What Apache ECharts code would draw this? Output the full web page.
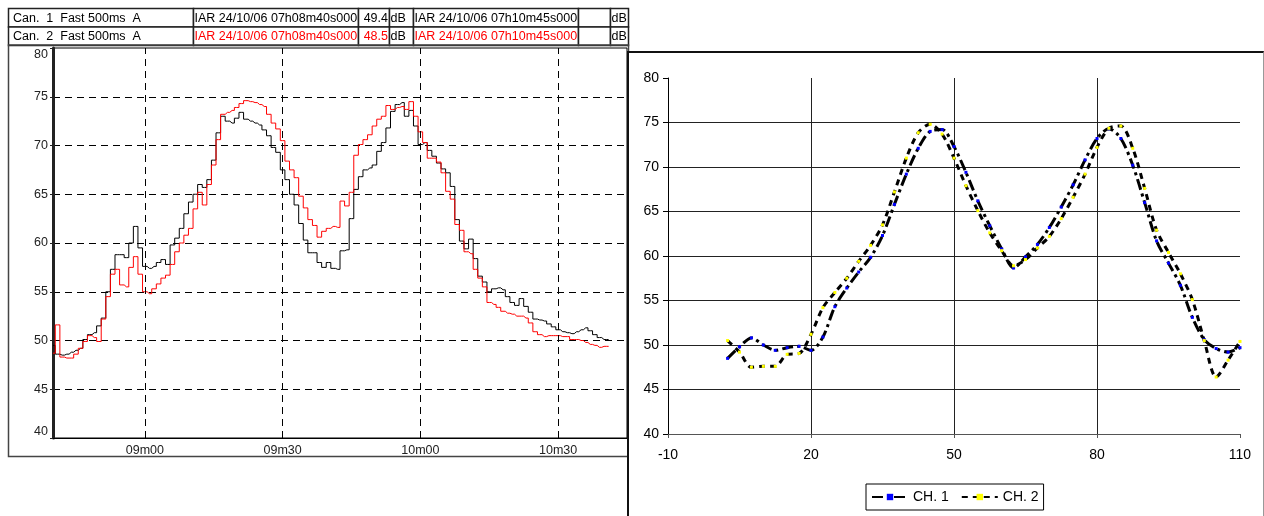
<!DOCTYPE html>
<html><head><meta charset="utf-8">
<script src="https://cdn.jsdelivr.net/npm/echarts@6/dist/echarts.min.js"></script>
<style>
html,body{margin:0;padding:0;background:#fff;overflow:hidden;}
#left{position:absolute;left:0;top:0;width:1264px;height:516px;}
#rbg{position:absolute;left:627px;top:51px;width:637px;height:465px;background:#fff;box-sizing:border-box;border-left:2px solid #111;border-top:2px solid #111;border-right:1px solid #999;}
#right{position:absolute;left:627px;top:51px;width:637px;height:465px;}
</style></head><body>
<div id="left"></div><div id="rbg"></div><div id="right"></div>
<script>
// ---------- Left chart data (1 value per second from 07h08m40s) ----------
const startLabel = '08m40';
const xTickSeconds = [20, 50, 80, 110];
const xTickLabels = ['09m00', '09m30', '10m00', '10m30'];
const yTicksLeft = [40, 45, 50, 55, 60, 65, 70, 75, 80];
const can1Values = [
  49.5, 48.6, 48.5, 48.6, 48.8, 49.0, 49.2, 50.1, 50.6, 50.8,
  51.5, 52.3, 55.0, 57.3, 58.8, 58.8, 58.5, 60.0, 61.7, 59.5,
  57.6, 57.4, 57.6, 58.0, 58.3, 57.8, 59.8, 60.5, 61.5, 63.0,
  64.2, 65.0, 66.0, 65.7, 66.5, 68.5, 71.3, 73.0, 72.5, 72.3,
  72.8, 73.4, 72.7, 72.5, 72.3, 72.1, 71.6, 71.0, 69.8, 69.3,
  67.5, 66.5, 65.0, 63.9, 62.0, 60.3, 59.0, 59.0, 58.0, 57.5,
  58.0, 57.4, 57.3, 59.2, 59.3, 62.5, 65.5, 66.8, 67.5, 67.7,
  68.0, 69.4, 70.3, 71.8, 73.5, 74.2, 74.4, 73.0, 73.6, 72.0,
  70.1, 70.3, 69.5, 68.9, 68.2, 67.6, 67.2, 65.8, 62.4, 60.2,
  59.4, 60.4, 58.4, 56.6, 56.0, 55.0, 55.3, 55.4, 55.2, 54.5,
  53.9, 53.6, 54.3, 53.5, 52.9, 52.2, 52.1, 52.0, 51.7, 51.4,
  51.1, 50.9, 50.8, 50.7, 50.9, 51.1, 51.3, 51.0, 50.6, 50.3,
  50.1, 50.1
];
const can2Values = [
  48.7, 51.6, 48.3, 48.2, 48.2, 48.6, 49.2, 49.9, 50.5, 50.3,
  49.9, 52.2, 54.5, 56.8, 57.3, 55.7, 55.5, 57.5, 58.6, 56.8,
  55.0, 54.8, 55.3, 55.8, 56.4, 56.7, 57.8, 59.1, 60.0, 60.8,
  61.5, 63.5, 65.2, 63.9, 66.0, 68.0, 70.6, 73.2, 73.4, 73.6,
  73.9, 74.3, 74.6, 74.5, 74.4, 74.2, 74.0, 73.2, 72.3, 71.7,
  70.5, 68.4, 67.5, 66.7, 64.8, 63.6, 62.4, 61.8, 60.6, 61.2,
  61.5, 61.7, 61.6, 64.3, 63.8, 65.2, 69.0, 70.1, 70.6, 71.1,
  72.0, 72.7, 73.0, 74.1, 73.7, 73.9, 74.0, 73.7, 74.5, 73.0,
  71.4, 70.3, 68.7, 68.7, 68.3, 67.2, 65.3, 64.5, 61.9, 61.3,
  59.1, 58.9, 57.3, 56.4, 55.5, 53.9, 53.7, 53.4, 53.0, 52.8,
  52.7, 52.5, 52.5, 52.3, 51.8, 50.9, 50.6, 50.4, 50.5, 50.5,
  50.5, 50.4, 50.4, 50.1, 50.1, 50.0, 49.8, 49.6, 49.5, 49.3,
  49.4, 49.4
];
// header table
const headerRow1 = ['Can.  1  Fast 500ms  A', 'IAR 24/10/06 07h08m40s000', '49.4', 'dB', 'IAR 24/10/06 07h10m45s000', '', 'dB'];
const headerRow2 = ['Can.  2  Fast 500ms  A', 'IAR 24/10/06 07h08m40s000', '48.5', 'dB', 'IAR 24/10/06 07h10m45s000', '', 'dB'];
const headerColors1 = ['#000', '#000', '#000', '#000', '#000', '#000', '#000'];
const headerColors2 = ['#000', '#ff0000', '#ff0000', '#000', '#ff0000', '#000', '#000'];

// ---------- Right chart data ----------
const rightX = [2.5, 5, 7.5, 10, 12.5, 15, 17.5, 20, 22.5, 25, 27.5, 30, 32.5, 35, 37.5, 40, 42.5, 45, 47.5,
  50, 52.5, 55, 57.5, 60, 62.5, 65, 67.5, 70, 72.5, 75, 77.5, 80, 82.5, 85, 87.5, 90, 92.5, 95, 97.5,
  100, 102.5, 105, 107.5, 110];
const ch1 = [48.5, 49.8, 50.8, 50.0, 49.4, 49.7, 49.85, 49.4, 50.9, 54.3, 56.4, 58.2, 59.85, 62.3, 65.8, 69.2, 72.1, 74.0, 74.2,
  72.3, 69.4, 66.2, 63.4, 60.8, 58.65, 59.9, 61.3, 63.2, 65.5, 68.0, 70.8, 73.2, 74.3, 73.2, 70.2, 66.0, 61.7, 59.2, 56.7,
  53.1, 50.6, 49.6, 49.2, 49.7];
const ch2 = [50.5, 49.2, 47.5, 47.6, 47.6, 48.95, 49.05, 51.2, 54.2, 55.9, 57.5, 59.4, 61.2, 63.5, 67.2, 71.0, 73.85, 74.8, 73.7,
  71.0, 67.9, 65.1, 62.6, 60.6, 58.9, 59.6, 60.9, 62.2, 64.2, 66.6, 69.2, 72.2, 74.35, 74.6, 72.1, 67.6, 62.9, 60.4, 58.0,
  55.1, 50.5, 46.4, 48.3, 50.4];
const seriesNames = ['CH. 1', 'CH. 2'];

const FONT = '"Liberation Sans", Arial, sans-serif';

// ---------- Left chart ----------
const cols = [8, 193, 358, 389, 413, 578, 610, 628];
const rowTops = [8, 26.5];
const rowH = 18.5;
const graphics = [];
rowTops.forEach((ry, r) => {
  const texts = r === 0 ? headerRow1 : headerRow2;
  const colors = r === 0 ? headerColors1 : headerColors2;
  for (let c = 0; c < cols.length - 1; c++) {
    const x0 = cols[c], x1 = cols[c + 1];
    graphics.push({type: 'rect', shape: {x: x0 + 0.5, y: ry + 0.5, width: x1 - x0, height: rowH},
      style: {fill: '#fff', stroke: '#222', lineWidth: 1.5}, z: 1});
    if (texts[c]) {
      let tx, al = 'left';
      if (c === 0) tx = x0 + 5;
      else if (c === 2) { tx = x1 - 1; al = 'right'; }
      else tx = x0 + 1.5;
      graphics.push({type: 'text', x: tx, y: ry + rowH / 2 + 1, z: 2,
        style: {text: texts[c], fill: colors[c], font: '12.5px ' + FONT, align: al, textAlign: al,
          verticalAlign: 'middle', textVerticalAlign: 'middle'}});
    }
  }
});
graphics.push({type: 'rect', shape: {x: 8.5, y: 45, width: 620, height: 411.5},
  style: {fill: 'none', stroke: '#444', lineWidth: 1.5}, z: 1});

const leftChart = echarts.init(document.getElementById('left'));
leftChart.setOption({
  animation: false,
  backgroundColor: '#fff',
  graphic: graphics,
  grid: {left: 53, top: 48, width: 574, height: 390, show: true, borderColor: '#000', borderWidth: 1, backgroundColor: 'transparent'},
  xAxis: {
    type: 'value', min: 0, max: 125,
    axisLine: {show: true, onZero: false, lineStyle: {color: '#000', width: 1}},
    axisTick: {show: false},
    splitLine: {show: false},
    axisLabel: {customValues: xTickSeconds, fontFamily: FONT, fontSize: 12.5, color: '#222', margin: 6,
      formatter: v => { const i = xTickSeconds.indexOf(v); return i >= 0 ? xTickLabels[i] : ''; }}
  },
  yAxis: {
    type: 'value', min: 40, max: 80, interval: 5,
    axisLine: {show: true, onZero: false, lineStyle: {color: '#222', width: 3}},
    axisTick: {show: true, length: 3, lineStyle: {color: '#222'}},
    axisLabel: {fontFamily: FONT, fontSize: 12.5, color: '#222', margin: 5,
      verticalAlignMinLabel: 'bottom', verticalAlignMaxLabel: 'top'},
    splitLine: {show: true, showMinLine: false, showMaxLine: false, lineStyle: {color: '#000', width: 1, type: [7, 5]}}
  },
  series: [
    {type: 'line', name: 'Can. 1', step: 'middle', symbol: 'none',
      data: can1Values.map((v, i) => [i, v]),
      lineStyle: {color: '#000', width: 1},
      markLine: {silent: true, symbol: ['none', 'none'], label: {show: false},
        lineStyle: {color: '#000', width: 1, type: [7, 5]},
        data: xTickSeconds.map(v => ({xAxis: v}))}},
    {type: 'line', name: 'Can. 2', step: 'middle', symbol: 'none',
      data: can2Values.map((v, i) => [i, v]),
      lineStyle: {color: '#ff0000', width: 1}}
  ]
});

// ---------- Right chart ----------
const rightChart = echarts.init(document.getElementById('right'));
rightChart.setOption({
  animation: false,
  grid: {left: 41, top: 27, width: 572, height: 356},
  legend: {
    data: seriesNames, left: 239, top: 433, orient: 'horizontal',
    borderColor: '#000', borderWidth: 1, padding: [6, 5, 6, 5],
    itemWidth: 36, itemHeight: 8, itemGap: 12,
    textStyle: {fontFamily: FONT, fontSize: 14, color: '#000'}
  },
  xAxis: {
    type: 'value', min: -10, max: 110, interval: 30,
    axisLine: {show: true, onZero: false, lineStyle: {color: '#555', width: 1}},
    axisTick: {show: true, length: 4, lineStyle: {color: '#555'}},
    axisLabel: {fontFamily: FONT, fontSize: 14, color: '#000', margin: 14},
    splitLine: {show: true, showMinLine: false, showMaxLine: false, lineStyle: {color: '#222', width: 1}}
  },
  yAxis: {
    type: 'value', min: 40, max: 80, interval: 5,
    axisLine: {show: true, onZero: false, lineStyle: {color: '#000', width: 1}},
    axisTick: {show: true, length: 5, lineStyle: {color: '#000'}},
    axisLabel: {fontFamily: FONT, fontSize: 14, color: '#000', margin: 9},
    splitLine: {show: true, showMinLine: false, showMaxLine: false, lineStyle: {color: '#222', width: 1}}
  },
  series: [
    {type: 'line', name: seriesNames[0], smooth: 0.3, symbol: 'rect', symbolSize: 3,
      data: rightX.map((x, i) => [x, ch1[i]]),
      itemStyle: {color: '#0000ff'},
      lineStyle: {color: '#000', width: 3, type: [11, 4, 3, 4]}},
    {type: 'line', name: seriesNames[1], smooth: 0.3, symbol: 'rect', symbolSize: 3,
      data: rightX.map((x, i) => [x, ch2[i]]),
      itemStyle: {color: '#ffff00'},
      lineStyle: {color: '#000', width: 3, type: [6, 5]}}
  ]
});
</script></body></html>
